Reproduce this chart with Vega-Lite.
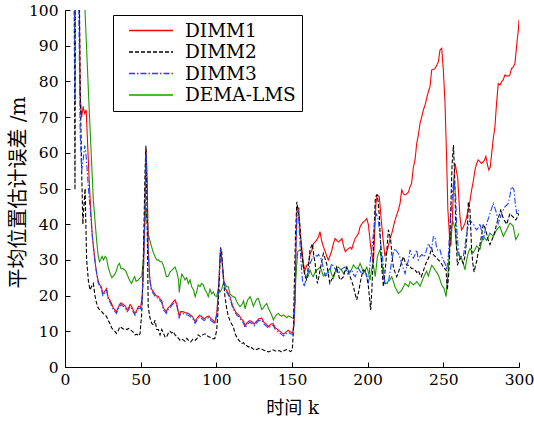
{
"$schema":"https://vega.github.io/schema/vega-lite/v6.json",
"width":454,"height":357,
"autosize":{"type":"none"},
"padding":{"left":65,"top":10,"right":15,"bottom":56},
"background":"white",
"config":{"view":{"stroke":null},"font":"DejaVu Serif"},
"data":{"values":[
{"s":"DEMA-LMS","k":1,"v":250},{"s":"DEMA-LMS","k":8,"v":200},{"s":"DEMA-LMS","k":12,"v":130},{"s":"DEMA-LMS","k":13.2,"v":100},{"s":"DEMA-LMS","k":16,"v":72},{"s":"DEMA-LMS","k":18.7,"v":47},{"s":"DEMA-LMS","k":20,"v":40},{"s":"DEMA-LMS","k":21,"v":35},{"s":"DEMA-LMS","k":22,"v":31},{"s":"DEMA-LMS","k":22.8,"v":29.5},{"s":"DEMA-LMS","k":23.5,"v":30},{"s":"DEMA-LMS","k":24.5,"v":31},{"s":"DEMA-LMS","k":25.5,"v":30},{"s":"DEMA-LMS","k":26.5,"v":31},{"s":"DEMA-LMS","k":27.5,"v":30.4},{"s":"DEMA-LMS","k":28.5,"v":28},{"s":"DEMA-LMS","k":30,"v":26},{"s":"DEMA-LMS","k":31,"v":25},{"s":"DEMA-LMS","k":32,"v":25.5},{"s":"DEMA-LMS","k":33,"v":26},{"s":"DEMA-LMS","k":34,"v":27},{"s":"DEMA-LMS","k":35,"v":28.5},{"s":"DEMA-LMS","k":36,"v":29},{"s":"DEMA-LMS","k":37,"v":27.6},{"s":"DEMA-LMS","k":38.5,"v":27.5},{"s":"DEMA-LMS","k":40,"v":27},{"s":"DEMA-LMS","k":41,"v":26},{"s":"DEMA-LMS","k":42,"v":25},{"s":"DEMA-LMS","k":43,"v":24},{"s":"DEMA-LMS","k":44,"v":23.4},{"s":"DEMA-LMS","k":45,"v":24.5},{"s":"DEMA-LMS","k":46,"v":25.3},{"s":"DEMA-LMS","k":47,"v":24},{"s":"DEMA-LMS","k":48.5,"v":24.4},{"s":"DEMA-LMS","k":49.5,"v":25},{"s":"DEMA-LMS","k":50.7,"v":25.3},{"s":"DEMA-LMS","k":51.8,"v":30},{"s":"DEMA-LMS","k":52.5,"v":38},{"s":"DEMA-LMS","k":53.3,"v":45},{"s":"DEMA-LMS","k":54.4,"v":40},{"s":"DEMA-LMS","k":55.2,"v":37},{"s":"DEMA-LMS","k":56,"v":35.6},{"s":"DEMA-LMS","k":57,"v":34},{"s":"DEMA-LMS","k":58.4,"v":32},{"s":"DEMA-LMS","k":59.5,"v":30.9},{"s":"DEMA-LMS","k":60.6,"v":30},{"s":"DEMA-LMS","k":61.7,"v":30},{"s":"DEMA-LMS","k":62.8,"v":29.5},{"s":"DEMA-LMS","k":63.9,"v":29.5},{"s":"DEMA-LMS","k":65,"v":28.5},{"s":"DEMA-LMS","k":66,"v":27},{"s":"DEMA-LMS","k":67,"v":25.3},{"s":"DEMA-LMS","k":68.3,"v":25.5},{"s":"DEMA-LMS","k":69.5,"v":26.7},{"s":"DEMA-LMS","k":70.5,"v":27},{"s":"DEMA-LMS","k":71.5,"v":27.5},{"s":"DEMA-LMS","k":72.7,"v":28},{"s":"DEMA-LMS","k":74,"v":26.5},{"s":"DEMA-LMS","k":75,"v":24.4},{"s":"DEMA-LMS","k":75.5,"v":20.9},{"s":"DEMA-LMS","k":76.5,"v":24.5},{"s":"DEMA-LMS","k":77.2,"v":26},{"s":"DEMA-LMS","k":78.3,"v":25.3},{"s":"DEMA-LMS","k":79.3,"v":24.4},{"s":"DEMA-LMS","k":80.4,"v":25},{"s":"DEMA-LMS","k":81.5,"v":23.4},{"s":"DEMA-LMS","k":82.6,"v":24.4},{"s":"DEMA-LMS","k":83.7,"v":22.5},{"s":"DEMA-LMS","k":85,"v":21.5},{"s":"DEMA-LMS","k":86,"v":19.7},{"s":"DEMA-LMS","k":87,"v":21},{"s":"DEMA-LMS","k":88,"v":23},{"s":"DEMA-LMS","k":89.2,"v":22.5},{"s":"DEMA-LMS","k":90.2,"v":23.4},{"s":"DEMA-LMS","k":91.4,"v":23},{"s":"DEMA-LMS","k":92.5,"v":21.6},{"s":"DEMA-LMS","k":93.6,"v":20.9},{"s":"DEMA-LMS","k":94.7,"v":19.7},{"s":"DEMA-LMS","k":95.8,"v":21.8},{"s":"DEMA-LMS","k":97,"v":20.5},{"s":"DEMA-LMS","k":98.1,"v":21},{"s":"DEMA-LMS","k":99,"v":20},{"s":"DEMA-LMS","k":100.2,"v":19.7},{"s":"DEMA-LMS","k":101.3,"v":22},{"s":"DEMA-LMS","k":102.4,"v":21},{"s":"DEMA-LMS","k":103.5,"v":21.8},{"s":"DEMA-LMS","k":104.6,"v":23.4},{"s":"DEMA-LMS","k":105.7,"v":23.4},{"s":"DEMA-LMS","k":106.8,"v":22.5},{"s":"DEMA-LMS","k":107.9,"v":22.5},{"s":"DEMA-LMS","k":109,"v":20.6},{"s":"DEMA-LMS","k":110,"v":20},{"s":"DEMA-LMS","k":111.2,"v":19.7},{"s":"DEMA-LMS","k":112.4,"v":19.5},{"s":"DEMA-LMS","k":113.5,"v":18.3},{"s":"DEMA-LMS","k":114.5,"v":17.5},{"s":"DEMA-LMS","k":115.7,"v":16.9},{"s":"DEMA-LMS","k":117,"v":17.5},{"s":"DEMA-LMS","k":118,"v":18.5},{"s":"DEMA-LMS","k":119,"v":16.3},{"s":"DEMA-LMS","k":120,"v":18},{"s":"DEMA-LMS","k":121,"v":19},{"s":"DEMA-LMS","k":122.3,"v":19.7},{"s":"DEMA-LMS","k":123.4,"v":18.5},{"s":"DEMA-LMS","k":124.5,"v":17},{"s":"DEMA-LMS","k":125.5,"v":18},{"s":"DEMA-LMS","k":126.6,"v":19},{"s":"DEMA-LMS","k":127.8,"v":19.2},{"s":"DEMA-LMS","k":129,"v":17.5},{"s":"DEMA-LMS","k":130,"v":16.1},{"s":"DEMA-LMS","k":131,"v":16.5},{"s":"DEMA-LMS","k":132,"v":17.2},{"s":"DEMA-LMS","k":133.3,"v":17.8},{"s":"DEMA-LMS","k":134.4,"v":16.5},{"s":"DEMA-LMS","k":135.5,"v":15.5},{"s":"DEMA-LMS","k":136.6,"v":14.5},{"s":"DEMA-LMS","k":137.7,"v":13.2},{"s":"DEMA-LMS","k":138.8,"v":14},{"s":"DEMA-LMS","k":140,"v":14.8},{"s":"DEMA-LMS","k":141,"v":15},{"s":"DEMA-LMS","k":142,"v":14.5},{"s":"DEMA-LMS","k":143.2,"v":14.2},{"s":"DEMA-LMS","k":144.3,"v":14.6},{"s":"DEMA-LMS","k":145.5,"v":14.2},{"s":"DEMA-LMS","k":146.5,"v":13.8},{"s":"DEMA-LMS","k":147.6,"v":14.3},{"s":"DEMA-LMS","k":148.7,"v":14.1},{"s":"DEMA-LMS","k":150,"v":13.8},{"s":"DEMA-LMS","k":151,"v":13.6},{"s":"DEMA-LMS","k":151.8,"v":18},{"s":"DEMA-LMS","k":152.5,"v":24.4},{"s":"DEMA-LMS","k":153.2,"v":29},{"s":"DEMA-LMS","k":153.8,"v":32.3},{"s":"DEMA-LMS","k":155,"v":32.8},{"s":"DEMA-LMS","k":156.4,"v":32.3},{"s":"DEMA-LMS","k":157.5,"v":28},{"s":"DEMA-LMS","k":158.6,"v":26},{"s":"DEMA-LMS","k":159.7,"v":24.9},{"s":"DEMA-LMS","k":160.8,"v":25.5},{"s":"DEMA-LMS","k":161.9,"v":27.2},{"s":"DEMA-LMS","k":163,"v":26},{"s":"DEMA-LMS","k":164,"v":25.3},{"s":"DEMA-LMS","k":165.3,"v":26.5},{"s":"DEMA-LMS","k":166.4,"v":27.2},{"s":"DEMA-LMS","k":167.5,"v":27.5},{"s":"DEMA-LMS","k":168.5,"v":28},{"s":"DEMA-LMS","k":169.6,"v":27},{"s":"DEMA-LMS","k":170.7,"v":25.5},{"s":"DEMA-LMS","k":171.8,"v":26},{"s":"DEMA-LMS","k":173,"v":26.2},{"s":"DEMA-LMS","k":174,"v":27},{"s":"DEMA-LMS","k":175,"v":27.5},{"s":"DEMA-LMS","k":176.2,"v":26},{"s":"DEMA-LMS","k":177.3,"v":24.9},{"s":"DEMA-LMS","k":178.4,"v":26.5},{"s":"DEMA-LMS","k":179.5,"v":27.6},{"s":"DEMA-LMS","k":180.6,"v":28},{"s":"DEMA-LMS","k":181.7,"v":27.5},{"s":"DEMA-LMS","k":183,"v":27},{"s":"DEMA-LMS","k":184,"v":26.2},{"s":"DEMA-LMS","k":185.1,"v":26.8},{"s":"DEMA-LMS","k":186.2,"v":27.6},{"s":"DEMA-LMS","k":187.3,"v":27},{"s":"DEMA-LMS","k":188.4,"v":26.5},{"s":"DEMA-LMS","k":189.5,"v":27.5},{"s":"DEMA-LMS","k":190.6,"v":28.6},{"s":"DEMA-LMS","k":191.7,"v":28},{"s":"DEMA-LMS","k":192.8,"v":27.5},{"s":"DEMA-LMS","k":194,"v":28},{"s":"DEMA-LMS","k":195,"v":29},{"s":"DEMA-LMS","k":196,"v":28},{"s":"DEMA-LMS","k":197.2,"v":26.2},{"s":"DEMA-LMS","k":198.3,"v":27},{"s":"DEMA-LMS","k":199.4,"v":28},{"s":"DEMA-LMS","k":200.5,"v":26.5},{"s":"DEMA-LMS","k":201.6,"v":24.4},{"s":"DEMA-LMS","k":202.5,"v":27},{"s":"DEMA-LMS","k":203.4,"v":29},{"s":"DEMA-LMS","k":204.2,"v":27.5},{"s":"DEMA-LMS","k":205,"v":25.3},{"s":"DEMA-LMS","k":205.7,"v":28},{"s":"DEMA-LMS","k":206.4,"v":30.9},{"s":"DEMA-LMS","k":207.3,"v":32},{"s":"DEMA-LMS","k":208.2,"v":32.8},{"s":"DEMA-LMS","k":209.1,"v":30},{"s":"DEMA-LMS","k":210,"v":27.2},{"s":"DEMA-LMS","k":210.7,"v":25},{"s":"DEMA-LMS","k":211.4,"v":23.4},{"s":"DEMA-LMS","k":212.5,"v":23.5},{"s":"DEMA-LMS","k":213.7,"v":24},{"s":"DEMA-LMS","k":214.8,"v":24.5},{"s":"DEMA-LMS","k":215.9,"v":25.3},{"s":"DEMA-LMS","k":217,"v":24},{"s":"DEMA-LMS","k":218,"v":22.5},{"s":"DEMA-LMS","k":219.2,"v":21.5},{"s":"DEMA-LMS","k":220.3,"v":20.6},{"s":"DEMA-LMS","k":221.4,"v":21},{"s":"DEMA-LMS","k":222.5,"v":21.5},{"s":"DEMA-LMS","k":223.6,"v":22.5},{"s":"DEMA-LMS","k":224.7,"v":23.4},{"s":"DEMA-LMS","k":225.8,"v":23},{"s":"DEMA-LMS","k":227,"v":22.5},{"s":"DEMA-LMS","k":228,"v":23.9},{"s":"DEMA-LMS","k":229,"v":23.5},{"s":"DEMA-LMS","k":230.2,"v":23},{"s":"DEMA-LMS","k":231.3,"v":23.4},{"s":"DEMA-LMS","k":232.4,"v":23.9},{"s":"DEMA-LMS","k":233.5,"v":23.4},{"s":"DEMA-LMS","k":234.6,"v":22.6},{"s":"DEMA-LMS","k":235.7,"v":23.8},{"s":"DEMA-LMS","k":236.8,"v":25},{"s":"DEMA-LMS","k":237.9,"v":26},{"s":"DEMA-LMS","k":239,"v":26.8},{"s":"DEMA-LMS","k":240.1,"v":25.5},{"s":"DEMA-LMS","k":241.2,"v":27},{"s":"DEMA-LMS","k":242.3,"v":28.5},{"s":"DEMA-LMS","k":243.4,"v":28},{"s":"DEMA-LMS","k":244.5,"v":27.2},{"s":"DEMA-LMS","k":245.6,"v":26.5},{"s":"DEMA-LMS","k":246.7,"v":25.8},{"s":"DEMA-LMS","k":247.8,"v":24.5},{"s":"DEMA-LMS","k":248.9,"v":23},{"s":"DEMA-LMS","k":249.6,"v":22.5},{"s":"DEMA-LMS","k":250.4,"v":22.1},{"s":"DEMA-LMS","k":251.1,"v":21},{"s":"DEMA-LMS","k":251.8,"v":19.7},{"s":"DEMA-LMS","k":252.5,"v":23},{"s":"DEMA-LMS","k":253.3,"v":27.6},{"s":"DEMA-LMS","k":254.4,"v":35.1},{"s":"DEMA-LMS","k":255.3,"v":38.5},{"s":"DEMA-LMS","k":256.2,"v":40.8},{"s":"DEMA-LMS","k":257,"v":40},{"s":"DEMA-LMS","k":257.7,"v":38.9},{"s":"DEMA-LMS","k":258.8,"v":33.2},{"s":"DEMA-LMS","k":260,"v":31.4},{"s":"DEMA-LMS","k":261,"v":31},{"s":"DEMA-LMS","k":262,"v":30.5},{"s":"DEMA-LMS","k":263.2,"v":29},{"s":"DEMA-LMS","k":264.3,"v":27.2},{"s":"DEMA-LMS","k":265.4,"v":30},{"s":"DEMA-LMS","k":266.5,"v":32},{"s":"DEMA-LMS","k":267.6,"v":33.2},{"s":"DEMA-LMS","k":268.7,"v":32.5},{"s":"DEMA-LMS","k":269.8,"v":32},{"s":"DEMA-LMS","k":271,"v":33},{"s":"DEMA-LMS","k":272,"v":33.9},{"s":"DEMA-LMS","k":273,"v":33.5},{"s":"DEMA-LMS","k":274.2,"v":33},{"s":"DEMA-LMS","k":275.3,"v":35},{"s":"DEMA-LMS","k":276.4,"v":36.6},{"s":"DEMA-LMS","k":277.5,"v":36},{"s":"DEMA-LMS","k":278.6,"v":35.5},{"s":"DEMA-LMS","k":279.7,"v":36.5},{"s":"DEMA-LMS","k":280.8,"v":37.5},{"s":"DEMA-LMS","k":281.9,"v":37},{"s":"DEMA-LMS","k":283,"v":36.6},{"s":"DEMA-LMS","k":284.1,"v":37.5},{"s":"DEMA-LMS","k":285.2,"v":38.4},{"s":"DEMA-LMS","k":286.3,"v":39},{"s":"DEMA-LMS","k":287.4,"v":39.4},{"s":"DEMA-LMS","k":288.5,"v":38},{"s":"DEMA-LMS","k":289.6,"v":36.6},{"s":"DEMA-LMS","k":290.7,"v":37.5},{"s":"DEMA-LMS","k":291.8,"v":38.4},{"s":"DEMA-LMS","k":293,"v":39.5},{"s":"DEMA-LMS","k":294,"v":40.3},{"s":"DEMA-LMS","k":295,"v":40},{"s":"DEMA-LMS","k":296.2,"v":39.4},{"s":"DEMA-LMS","k":297,"v":37.5},{"s":"DEMA-LMS","k":297.9,"v":35.7},{"s":"DEMA-LMS","k":299,"v":36.5},{"s":"DEMA-LMS","k":300,"v":37.5},
{"s":"DIMM1","k":1,"v":160},{"s":"DIMM1","k":5,"v":150},{"s":"DIMM1","k":8,"v":130},{"s":"DIMM1","k":9.5,"v":100},{"s":"DIMM1","k":10,"v":76},{"s":"DIMM1","k":11,"v":70},{"s":"DIMM1","k":12,"v":73},{"s":"DIMM1","k":13,"v":71},{"s":"DIMM1","k":14,"v":72},{"s":"DIMM1","k":15,"v":62},{"s":"DIMM1","k":16,"v":52},{"s":"DIMM1","k":17,"v":44},{"s":"DIMM1","k":18,"v":37},{"s":"DIMM1","k":19,"v":33},{"s":"DIMM1","k":20,"v":29},{"s":"DIMM1","k":21,"v":26},{"s":"DIMM1","k":22,"v":24},{"s":"DIMM1","k":23,"v":23},{"s":"DIMM1","k":24,"v":22.5},{"s":"DIMM1","k":25,"v":20.5},{"s":"DIMM1","k":26,"v":21},{"s":"DIMM1","k":27.5,"v":22},{"s":"DIMM1","k":28.5,"v":19.5},{"s":"DIMM1","k":30,"v":18.5},{"s":"DIMM1","k":31,"v":17.5},{"s":"DIMM1","k":32,"v":16.5},{"s":"DIMM1","k":33,"v":16},{"s":"DIMM1","k":34,"v":15.5},{"s":"DIMM1","k":35,"v":16.5},{"s":"DIMM1","k":36,"v":17.5},{"s":"DIMM1","k":37,"v":18},{"s":"DIMM1","k":38.5,"v":17.5},{"s":"DIMM1","k":40,"v":17},{"s":"DIMM1","k":41,"v":16},{"s":"DIMM1","k":42,"v":16.5},{"s":"DIMM1","k":43,"v":17.5},{"s":"DIMM1","k":44,"v":17},{"s":"DIMM1","k":45,"v":16},{"s":"DIMM1","k":46.3,"v":15},{"s":"DIMM1","k":47.5,"v":16},{"s":"DIMM1","k":48.5,"v":17},{"s":"DIMM1","k":50,"v":16.8},{"s":"DIMM1","k":51,"v":19.5},{"s":"DIMM1","k":52,"v":30},{"s":"DIMM1","k":53,"v":47},{"s":"DIMM1","k":53.6,"v":61},{"s":"DIMM1","k":54.3,"v":52},{"s":"DIMM1","k":55,"v":33},{"s":"DIMM1","k":56,"v":25},{"s":"DIMM1","k":57,"v":22},{"s":"DIMM1","k":58.5,"v":21},{"s":"DIMM1","k":60,"v":20},{"s":"DIMM1","k":61.5,"v":19.8},{"s":"DIMM1","k":63,"v":19},{"s":"DIMM1","k":64,"v":18.5},{"s":"DIMM1","k":65,"v":16.5},{"s":"DIMM1","k":66,"v":16},{"s":"DIMM1","k":67,"v":15.5},{"s":"DIMM1","k":68,"v":16.5},{"s":"DIMM1","k":69.4,"v":17},{"s":"DIMM1","k":71,"v":18},{"s":"DIMM1","k":72.7,"v":18.8},{"s":"DIMM1","k":74,"v":17.5},{"s":"DIMM1","k":75.4,"v":14.3},{"s":"DIMM1","k":76.5,"v":15.5},{"s":"DIMM1","k":78,"v":15.5},{"s":"DIMM1","k":79.5,"v":15.2},{"s":"DIMM1","k":81.5,"v":15},{"s":"DIMM1","k":83,"v":14.5},{"s":"DIMM1","k":84.5,"v":14},{"s":"DIMM1","k":86,"v":12.7},{"s":"DIMM1","k":87.5,"v":13.8},{"s":"DIMM1","k":89,"v":14.5},{"s":"DIMM1","k":90.5,"v":14},{"s":"DIMM1","k":92,"v":13.5},{"s":"DIMM1","k":93.5,"v":14},{"s":"DIMM1","k":95,"v":14.3},{"s":"DIMM1","k":96.5,"v":13.5},{"s":"DIMM1","k":98,"v":13},{"s":"DIMM1","k":99,"v":12.5},{"s":"DIMM1","k":100.3,"v":15},{"s":"DIMM1","k":101.3,"v":21},{"s":"DIMM1","k":102.8,"v":33.5},{"s":"DIMM1","k":104,"v":29},{"s":"DIMM1","k":105,"v":24},{"s":"DIMM1","k":106,"v":22},{"s":"DIMM1","k":107.5,"v":21},{"s":"DIMM1","k":109,"v":19.7},{"s":"DIMM1","k":110.5,"v":17.5},{"s":"DIMM1","k":112,"v":16},{"s":"DIMM1","k":113.5,"v":15},{"s":"DIMM1","k":115,"v":14.5},{"s":"DIMM1","k":116.5,"v":13.5},{"s":"DIMM1","k":118,"v":12.8},{"s":"DIMM1","k":119,"v":11.5},{"s":"DIMM1","k":120.5,"v":12.5},{"s":"DIMM1","k":122,"v":13},{"s":"DIMM1","k":123.5,"v":12.7},{"s":"DIMM1","k":125,"v":12},{"s":"DIMM1","k":126.5,"v":12.8},{"s":"DIMM1","k":128,"v":13.5},{"s":"DIMM1","k":130,"v":13.7},{"s":"DIMM1","k":131.5,"v":12.5},{"s":"DIMM1","k":133,"v":12},{"s":"DIMM1","k":134.5,"v":11.3},{"s":"DIMM1","k":136,"v":12},{"s":"DIMM1","k":137.5,"v":12.2},{"s":"DIMM1","k":139,"v":11},{"s":"DIMM1","k":140.5,"v":10.5},{"s":"DIMM1","k":142,"v":10},{"s":"DIMM1","k":143.5,"v":9.5},{"s":"DIMM1","k":144.5,"v":9.2},{"s":"DIMM1","k":146,"v":9.8},{"s":"DIMM1","k":147.5,"v":10.3},{"s":"DIMM1","k":149,"v":9.8},{"s":"DIMM1","k":150.5,"v":9.6},{"s":"DIMM1","k":151.3,"v":12},{"s":"DIMM1","k":152,"v":19},{"s":"DIMM1","k":152.7,"v":35},{"s":"DIMM1","k":153.3,"v":44},{"s":"DIMM1","k":154.5,"v":44.5},{"s":"DIMM1","k":155.3,"v":38},{"s":"DIMM1","k":156.4,"v":33.7},{"s":"DIMM1","k":157.5,"v":29},{"s":"DIMM1","k":158.6,"v":27},{"s":"DIMM1","k":159.7,"v":28.5},{"s":"DIMM1","k":161,"v":29},{"s":"DIMM1","k":162,"v":31.8},{"s":"DIMM1","k":163,"v":32.5},{"s":"DIMM1","k":164.2,"v":34.6},{"s":"DIMM1","k":165.3,"v":35},{"s":"DIMM1","k":166.4,"v":35.6},{"s":"DIMM1","k":167.5,"v":36.5},{"s":"DIMM1","k":168.5,"v":37.9},{"s":"DIMM1","k":169.5,"v":35.5},{"s":"DIMM1","k":170.5,"v":34},{"s":"DIMM1","k":171.8,"v":32.5},{"s":"DIMM1","k":173,"v":31},{"s":"DIMM1","k":174,"v":30},{"s":"DIMM1","k":175,"v":31},{"s":"DIMM1","k":176.2,"v":32.5},{"s":"DIMM1","k":177.3,"v":34.5},{"s":"DIMM1","k":178.5,"v":36},{"s":"DIMM1","k":179.5,"v":35.5},{"s":"DIMM1","k":180.7,"v":35},{"s":"DIMM1","k":182,"v":35.5},{"s":"DIMM1","k":183,"v":36},{"s":"DIMM1","k":184,"v":34},{"s":"DIMM1","k":185.2,"v":32.3},{"s":"DIMM1","k":186.3,"v":32.8},{"s":"DIMM1","k":187.3,"v":33.2},{"s":"DIMM1","k":188.5,"v":33.5},{"s":"DIMM1","k":189.5,"v":33},{"s":"DIMM1","k":190.5,"v":34.5},{"s":"DIMM1","k":191.7,"v":36},{"s":"DIMM1","k":193,"v":36.8},{"s":"DIMM1","k":194,"v":37.5},{"s":"DIMM1","k":195,"v":39.3},{"s":"DIMM1","k":196,"v":40},{"s":"DIMM1","k":197.2,"v":40.7},{"s":"DIMM1","k":198.3,"v":41},{"s":"DIMM1","k":199.4,"v":41.6},{"s":"DIMM1","k":200.5,"v":39.8},{"s":"DIMM1","k":201.2,"v":37},{"s":"DIMM1","k":202,"v":33.7},{"s":"DIMM1","k":203,"v":31},{"s":"DIMM1","k":203.8,"v":29},{"s":"DIMM1","k":204.7,"v":38},{"s":"DIMM1","k":205.5,"v":46},{"s":"DIMM1","k":206.3,"v":48.2},{"s":"DIMM1","k":207.7,"v":47.7},{"s":"DIMM1","k":208.8,"v":42},{"s":"DIMM1","k":210,"v":36.5},{"s":"DIMM1","k":211.4,"v":31},{"s":"DIMM1","k":212.2,"v":32},{"s":"DIMM1","k":213,"v":32.8},{"s":"DIMM1","k":214,"v":34.5},{"s":"DIMM1","k":214.8,"v":36},{"s":"DIMM1","k":216,"v":37.5},{"s":"DIMM1","k":217,"v":39.3},{"s":"DIMM1","k":218,"v":41},{"s":"DIMM1","k":219.2,"v":42.6},{"s":"DIMM1","k":220.3,"v":44},{"s":"DIMM1","k":221.4,"v":45.8},{"s":"DIMM1","k":222.5,"v":49.6},{"s":"DIMM1","k":223.6,"v":48.5},{"s":"DIMM1","k":224.7,"v":48.2},{"s":"DIMM1","k":226,"v":48.6},{"s":"DIMM1","k":227,"v":49},{"s":"DIMM1","k":228,"v":50.5},{"s":"DIMM1","k":229,"v":51.4},{"s":"DIMM1","k":230.2,"v":56},{"s":"DIMM1","k":231.3,"v":58},{"s":"DIMM1","k":232.4,"v":62.6},{"s":"DIMM1","k":233.5,"v":65},{"s":"DIMM1","k":234.6,"v":68.3},{"s":"DIMM1","k":235.7,"v":70},{"s":"DIMM1","k":236.8,"v":72},{"s":"DIMM1","k":238,"v":73.5},{"s":"DIMM1","k":239,"v":75.3},{"s":"DIMM1","k":240,"v":77},{"s":"DIMM1","k":241.2,"v":78.5},{"s":"DIMM1","k":242.3,"v":83.2},{"s":"DIMM1","k":243.4,"v":83.4},{"s":"DIMM1","k":244.5,"v":83.6},{"s":"DIMM1","k":245.6,"v":84.5},{"s":"DIMM1","k":246.7,"v":85.5},{"s":"DIMM1","k":247.8,"v":88.8},{"s":"DIMM1","k":248.9,"v":89.3},{"s":"DIMM1","k":250,"v":83.2},{"s":"DIMM1","k":251.1,"v":74},{"s":"DIMM1","k":252.2,"v":58},{"s":"DIMM1","k":253,"v":44},{"s":"DIMM1","k":253.6,"v":40},{"s":"DIMM1","k":254.3,"v":35},{"s":"DIMM1","k":255,"v":34},{"s":"DIMM1","k":256,"v":42},{"s":"DIMM1","k":257,"v":53},{"s":"DIMM1","k":257.8,"v":57},{"s":"DIMM1","k":258.6,"v":55},{"s":"DIMM1","k":259.5,"v":53},{"s":"DIMM1","k":260.3,"v":47},{"s":"DIMM1","k":261,"v":42},{"s":"DIMM1","k":262,"v":38.4},{"s":"DIMM1","k":263,"v":39},{"s":"DIMM1","k":264.3,"v":40.3},{"s":"DIMM1","k":265.4,"v":42},{"s":"DIMM1","k":266.5,"v":44},{"s":"DIMM1","k":267.6,"v":46.5},{"s":"DIMM1","k":268.7,"v":49.6},{"s":"DIMM1","k":269.8,"v":52},{"s":"DIMM1","k":270.9,"v":55.2},{"s":"DIMM1","k":272,"v":57},{"s":"DIMM1","k":273,"v":58},{"s":"DIMM1","k":274.2,"v":57.5},{"s":"DIMM1","k":275.3,"v":57},{"s":"DIMM1","k":276.4,"v":57.5},{"s":"DIMM1","k":277.2,"v":58},{"s":"DIMM1","k":278.1,"v":59},{"s":"DIMM1","k":279,"v":57},{"s":"DIMM1","k":280,"v":55.2},{"s":"DIMM1","k":281,"v":56},{"s":"DIMM1","k":282,"v":60},{"s":"DIMM1","k":283,"v":64},{"s":"DIMM1","k":284.1,"v":67.3},{"s":"DIMM1","k":285.2,"v":74},{"s":"DIMM1","k":286.3,"v":79.4},{"s":"DIMM1","k":287.4,"v":79},{"s":"DIMM1","k":288.5,"v":79.9},{"s":"DIMM1","k":289.6,"v":80.5},{"s":"DIMM1","k":290.7,"v":81.8},{"s":"DIMM1","k":292,"v":81.5},{"s":"DIMM1","k":293,"v":81.5},{"s":"DIMM1","k":294,"v":81.8},{"s":"DIMM1","k":295,"v":83.6},{"s":"DIMM1","k":296.2,"v":84},{"s":"DIMM1","k":297.3,"v":85},{"s":"DIMM1","k":298,"v":88},{"s":"DIMM1","k":298.8,"v":91.6},{"s":"DIMM1","k":299.5,"v":94},{"s":"DIMM1","k":300,"v":97.2},
{"s":"DIMM2","k":1,"v":160},{"s":"DIMM2","k":5,"v":150},{"s":"DIMM2","k":6,"v":110},{"s":"DIMM2","k":6.6,"v":49.6},{"s":"DIMM2","k":7,"v":110},{"s":"DIMM2","k":8,"v":150},{"s":"DIMM2","k":9,"v":130},{"s":"DIMM2","k":10,"v":80},{"s":"DIMM2","k":11,"v":55},{"s":"DIMM2","k":11.8,"v":40},{"s":"DIMM2","k":12.5,"v":45},{"s":"DIMM2","k":13.3,"v":50},{"s":"DIMM2","k":14.3,"v":30},{"s":"DIMM2","k":15.5,"v":24},{"s":"DIMM2","k":16.5,"v":21.6},{"s":"DIMM2","k":17.5,"v":22.5},{"s":"DIMM2","k":18.7,"v":23.4},{"s":"DIMM2","k":19.8,"v":20},{"s":"DIMM2","k":20.9,"v":17.8},{"s":"DIMM2","k":22,"v":16.5},{"s":"DIMM2","k":23.1,"v":16},{"s":"DIMM2","k":24.2,"v":15.5},{"s":"DIMM2","k":25.3,"v":15},{"s":"DIMM2","k":26.4,"v":14.7},{"s":"DIMM2","k":27.5,"v":14.1},{"s":"DIMM2","k":28.6,"v":13},{"s":"DIMM2","k":29.7,"v":12.2},{"s":"DIMM2","k":30.8,"v":11},{"s":"DIMM2","k":31.9,"v":10.4},{"s":"DIMM2","k":33,"v":10},{"s":"DIMM2","k":34.1,"v":9.4},{"s":"DIMM2","k":35.2,"v":10.2},{"s":"DIMM2","k":36.3,"v":11.3},{"s":"DIMM2","k":37.4,"v":11},{"s":"DIMM2","k":38.5,"v":10.6},{"s":"DIMM2","k":39.6,"v":10.8},{"s":"DIMM2","k":41,"v":10.5},{"s":"DIMM2","k":42,"v":10.8},{"s":"DIMM2","k":43,"v":10.4},{"s":"DIMM2","k":44,"v":10.2},{"s":"DIMM2","k":45,"v":9.8},{"s":"DIMM2","k":46.3,"v":9},{"s":"DIMM2","k":47.5,"v":9.2},{"s":"DIMM2","k":48.5,"v":8.7},{"s":"DIMM2","k":49.6,"v":9.4},{"s":"DIMM2","k":50.7,"v":15},{"s":"DIMM2","k":51.5,"v":25},{"s":"DIMM2","k":52.2,"v":40},{"s":"DIMM2","k":52.9,"v":55},{"s":"DIMM2","k":53.5,"v":62},{"s":"DIMM2","k":54,"v":50},{"s":"DIMM2","k":54.5,"v":33},{"s":"DIMM2","k":55,"v":17},{"s":"DIMM2","k":56,"v":14},{"s":"DIMM2","k":57.3,"v":12.2},{"s":"DIMM2","k":58.5,"v":11.8},{"s":"DIMM2","k":59.5,"v":13.1},{"s":"DIMM2","k":60.6,"v":10.5},{"s":"DIMM2","k":61.7,"v":10.5},{"s":"DIMM2","k":62.8,"v":9},{"s":"DIMM2","k":63.9,"v":10.5},{"s":"DIMM2","k":65,"v":9.5},{"s":"DIMM2","k":66,"v":8.5},{"s":"DIMM2","k":67,"v":8.3},{"s":"DIMM2","k":68.3,"v":9.5},{"s":"DIMM2","k":69.4,"v":10},{"s":"DIMM2","k":70.5,"v":9.5},{"s":"DIMM2","k":71.6,"v":9.9},{"s":"DIMM2","k":72.7,"v":9},{"s":"DIMM2","k":74,"v":8.5},{"s":"DIMM2","k":75,"v":8},{"s":"DIMM2","k":76,"v":7.5},{"s":"DIMM2","k":77,"v":7.8},{"s":"DIMM2","k":78,"v":7.6},{"s":"DIMM2","k":79.3,"v":7.2},{"s":"DIMM2","k":80.5,"v":8},{"s":"DIMM2","k":81.5,"v":7.5},{"s":"DIMM2","k":83,"v":7},{"s":"DIMM2","k":84.5,"v":7.8},{"s":"DIMM2","k":86,"v":7.5},{"s":"DIMM2","k":87.3,"v":8},{"s":"DIMM2","k":88,"v":9},{"s":"DIMM2","k":89.5,"v":8.5},{"s":"DIMM2","k":91,"v":9},{"s":"DIMM2","k":92.5,"v":9.3},{"s":"DIMM2","k":93.6,"v":8.8},{"s":"DIMM2","k":95,"v":8.5},{"s":"DIMM2","k":96.5,"v":8.2},{"s":"DIMM2","k":98,"v":7.9},{"s":"DIMM2","k":99,"v":8},{"s":"DIMM2","k":100.2,"v":10.2},{"s":"DIMM2","k":101,"v":15},{"s":"DIMM2","k":102,"v":25},{"s":"DIMM2","k":102.8,"v":33.2},{"s":"DIMM2","k":103.5,"v":32.8},{"s":"DIMM2","k":104.2,"v":27},{"s":"DIMM2","k":105.7,"v":19.7},{"s":"DIMM2","k":107,"v":16},{"s":"DIMM2","k":108,"v":14.1},{"s":"DIMM2","k":109.5,"v":12.5},{"s":"DIMM2","k":111.2,"v":11.3},{"s":"DIMM2","k":112.4,"v":9.3},{"s":"DIMM2","k":114,"v":8},{"s":"DIMM2","k":115.5,"v":7.2},{"s":"DIMM2","k":116.8,"v":6.6},{"s":"DIMM2","k":118,"v":6.8},{"s":"DIMM2","k":119,"v":6.1},{"s":"DIMM2","k":120,"v":6},{"s":"DIMM2","k":121.2,"v":5.6},{"s":"DIMM2","k":122.5,"v":5.8},{"s":"DIMM2","k":123.5,"v":5.3},{"s":"DIMM2","k":125.6,"v":4.7},{"s":"DIMM2","k":127,"v":5},{"s":"DIMM2","k":128,"v":5.2},{"s":"DIMM2","k":130,"v":5},{"s":"DIMM2","k":131.5,"v":4.7},{"s":"DIMM2","k":133,"v":4.5},{"s":"DIMM2","k":134.4,"v":4.2},{"s":"DIMM2","k":136,"v":4.5},{"s":"DIMM2","k":137.5,"v":4.8},{"s":"DIMM2","k":139,"v":4.5},{"s":"DIMM2","k":140.5,"v":4.4},{"s":"DIMM2","k":141.5,"v":4.6},{"s":"DIMM2","k":143.2,"v":4.2},{"s":"DIMM2","k":145,"v":4.6},{"s":"DIMM2","k":146.5,"v":4.9},{"s":"DIMM2","k":148,"v":4.6},{"s":"DIMM2","k":149,"v":4.3},{"s":"DIMM2","k":150.2,"v":4.7},{"s":"DIMM2","k":150.9,"v":10},{"s":"DIMM2","k":151.6,"v":24.4},{"s":"DIMM2","k":152.4,"v":38},{"s":"DIMM2","k":153.2,"v":46.3},{"s":"DIMM2","k":154,"v":44},{"s":"DIMM2","k":155.3,"v":39.3},{"s":"DIMM2","k":156.2,"v":33},{"s":"DIMM2","k":157.5,"v":28},{"s":"DIMM2","k":158.5,"v":25.5},{"s":"DIMM2","k":159.7,"v":24.4},{"s":"DIMM2","k":160.8,"v":28},{"s":"DIMM2","k":161.9,"v":32.8},{"s":"DIMM2","k":163.4,"v":34.5},{"s":"DIMM2","k":164.5,"v":31},{"s":"DIMM2","k":165.3,"v":29},{"s":"DIMM2","k":166,"v":26},{"s":"DIMM2","k":166.8,"v":23.4},{"s":"DIMM2","k":167.6,"v":25},{"s":"DIMM2","k":168.5,"v":27},{"s":"DIMM2","k":169.6,"v":29.5},{"s":"DIMM2","k":170.7,"v":31.8},{"s":"DIMM2","k":171.8,"v":30.5},{"s":"DIMM2","k":172.9,"v":29},{"s":"DIMM2","k":174,"v":26},{"s":"DIMM2","k":175,"v":23.4},{"s":"DIMM2","k":176.2,"v":24.5},{"s":"DIMM2","k":177.3,"v":25.3},{"s":"DIMM2","k":178.4,"v":26.5},{"s":"DIMM2","k":179.5,"v":28},{"s":"DIMM2","k":180.6,"v":26},{"s":"DIMM2","k":181.7,"v":24.4},{"s":"DIMM2","k":183,"v":24.8},{"s":"DIMM2","k":184,"v":25.3},{"s":"DIMM2","k":185,"v":27},{"s":"DIMM2","k":186.2,"v":28},{"s":"DIMM2","k":187.3,"v":26.5},{"s":"DIMM2","k":188.4,"v":25.3},{"s":"DIMM2","k":189.5,"v":24},{"s":"DIMM2","k":190.6,"v":22.5},{"s":"DIMM2","k":191.7,"v":20.5},{"s":"DIMM2","k":192.8,"v":18.8},{"s":"DIMM2","k":194,"v":21},{"s":"DIMM2","k":195,"v":23.4},{"s":"DIMM2","k":196,"v":25.5},{"s":"DIMM2","k":197.2,"v":27.2},{"s":"DIMM2","k":198.3,"v":27},{"s":"DIMM2","k":199.4,"v":25.5},{"s":"DIMM2","k":200.5,"v":22.5},{"s":"DIMM2","k":201.2,"v":19.5},{"s":"DIMM2","k":202,"v":16},{"s":"DIMM2","k":202.7,"v":21},{"s":"DIMM2","k":203.4,"v":28},{"s":"DIMM2","k":204.2,"v":38},{"s":"DIMM2","k":205,"v":46.8},{"s":"DIMM2","k":205.8,"v":48.2},{"s":"DIMM2","k":206.4,"v":48.2},{"s":"DIMM2","k":207.1,"v":45.5},{"s":"DIMM2","k":207.7,"v":42.3},{"s":"DIMM2","k":208.5,"v":35},{"s":"DIMM2","k":209.3,"v":28},{"s":"DIMM2","k":210.4,"v":22.5},{"s":"DIMM2","k":211.3,"v":26},{"s":"DIMM2","k":212.2,"v":30},{"s":"DIMM2","k":213,"v":34.5},{"s":"DIMM2","k":213.7,"v":38.4},{"s":"DIMM2","k":214.5,"v":37},{"s":"DIMM2","k":215.2,"v":35.6},{"s":"DIMM2","k":216,"v":31.5},{"s":"DIMM2","k":217,"v":28},{"s":"DIMM2","k":218.1,"v":26.5},{"s":"DIMM2","k":219.2,"v":25.3},{"s":"DIMM2","k":220.3,"v":26.5},{"s":"DIMM2","k":221.4,"v":28},{"s":"DIMM2","k":222.5,"v":29.5},{"s":"DIMM2","k":223.6,"v":30.9},{"s":"DIMM2","k":224.7,"v":29.5},{"s":"DIMM2","k":225.8,"v":28.5},{"s":"DIMM2","k":227,"v":28.5},{"s":"DIMM2","k":228,"v":28.1},{"s":"DIMM2","k":229,"v":27.6},{"s":"DIMM2","k":230.2,"v":27.5},{"s":"DIMM2","k":231.3,"v":27.2},{"s":"DIMM2","k":232.4,"v":26.5},{"s":"DIMM2","k":233.5,"v":27},{"s":"DIMM2","k":234.5,"v":26},{"s":"DIMM2","k":235.4,"v":25.3},{"s":"DIMM2","k":236.5,"v":26.5},{"s":"DIMM2","k":238,"v":28.5},{"s":"DIMM2","k":239,"v":29.5},{"s":"DIMM2","k":240.2,"v":30.5},{"s":"DIMM2","k":241.3,"v":31.8},{"s":"DIMM2","k":242.3,"v":33.2},{"s":"DIMM2","k":243.4,"v":31.5},{"s":"DIMM2","k":244.5,"v":31},{"s":"DIMM2","k":245.6,"v":30.5},{"s":"DIMM2","k":246.7,"v":30},{"s":"DIMM2","k":247.8,"v":29.6},{"s":"DIMM2","k":249,"v":28.8},{"s":"DIMM2","k":250,"v":28},{"s":"DIMM2","k":251,"v":27.5},{"s":"DIMM2","k":251.8,"v":27.2},{"s":"DIMM2","k":252.6,"v":21.5},{"s":"DIMM2","k":253.4,"v":25},{"s":"DIMM2","k":254,"v":29.6},{"s":"DIMM2","k":254.9,"v":43.9},{"s":"DIMM2","k":255.8,"v":57},{"s":"DIMM2","k":256.7,"v":62.2},{"s":"DIMM2","k":257.5,"v":53.3},{"s":"DIMM2","k":258.4,"v":36.4},{"s":"DIMM2","k":259.3,"v":28.5},{"s":"DIMM2","k":260.2,"v":29.5},{"s":"DIMM2","k":261,"v":30.5},{"s":"DIMM2","k":262,"v":30},{"s":"DIMM2","k":263.2,"v":29},{"s":"DIMM2","k":264.3,"v":31},{"s":"DIMM2","k":265.4,"v":35.5},{"s":"DIMM2","k":266,"v":40},{"s":"DIMM2","k":266.5,"v":46.3},{"s":"DIMM2","k":267.6,"v":43.9},{"s":"DIMM2","k":268.2,"v":38},{"s":"DIMM2","k":268.7,"v":32.8},{"s":"DIMM2","k":269.5,"v":29},{"s":"DIMM2","k":270.3,"v":26.6},{"s":"DIMM2","k":271,"v":28},{"s":"DIMM2","k":272,"v":29.6},{"s":"DIMM2","k":273,"v":32},{"s":"DIMM2","k":274.2,"v":34.3},{"s":"DIMM2","k":275.3,"v":37},{"s":"DIMM2","k":276.4,"v":40},{"s":"DIMM2","k":277.5,"v":39},{"s":"DIMM2","k":278.6,"v":37.4},{"s":"DIMM2","k":279.7,"v":35.5},{"s":"DIMM2","k":280.8,"v":34.3},{"s":"DIMM2","k":282,"v":35.5},{"s":"DIMM2","k":283,"v":36.5},{"s":"DIMM2","k":284.1,"v":38},{"s":"DIMM2","k":285.2,"v":40},{"s":"DIMM2","k":286.5,"v":42},{"s":"DIMM2","k":287.9,"v":43.9},{"s":"DIMM2","k":289,"v":42.5},{"s":"DIMM2","k":289.6,"v":41.5},{"s":"DIMM2","k":290.7,"v":40.8},{"s":"DIMM2","k":291.8,"v":40},{"s":"DIMM2","k":293,"v":41.5},{"s":"DIMM2","k":294,"v":43},{"s":"DIMM2","k":295,"v":42.5},{"s":"DIMM2","k":296.2,"v":42},{"s":"DIMM2","k":297,"v":41.5},{"s":"DIMM2","k":297.9,"v":41.2},{"s":"DIMM2","k":299,"v":42},{"s":"DIMM2","k":300,"v":43},
{"s":"DIMM3","k":1,"v":160},{"s":"DIMM3","k":5,"v":150},{"s":"DIMM3","k":6,"v":120},{"s":"DIMM3","k":6.6,"v":74.5},{"s":"DIMM3","k":7,"v":110},{"s":"DIMM3","k":8,"v":130},{"s":"DIMM3","k":9,"v":105},{"s":"DIMM3","k":10,"v":66},{"s":"DIMM3","k":11,"v":55},{"s":"DIMM3","k":12,"v":58},{"s":"DIMM3","k":13,"v":62},{"s":"DIMM3","k":14,"v":59},{"s":"DIMM3","k":14.5,"v":56},{"s":"DIMM3","k":15.5,"v":50},{"s":"DIMM3","k":16.7,"v":44},{"s":"DIMM3","k":18,"v":37},{"s":"DIMM3","k":19,"v":32.5},{"s":"DIMM3","k":20,"v":29},{"s":"DIMM3","k":21,"v":26},{"s":"DIMM3","k":22,"v":23.5},{"s":"DIMM3","k":23,"v":22.5},{"s":"DIMM3","k":24,"v":22},{"s":"DIMM3","k":25,"v":20},{"s":"DIMM3","k":26,"v":20.5},{"s":"DIMM3","k":27.5,"v":21.5},{"s":"DIMM3","k":28.5,"v":19},{"s":"DIMM3","k":30,"v":18},{"s":"DIMM3","k":31,"v":17},{"s":"DIMM3","k":32,"v":16},{"s":"DIMM3","k":33,"v":15.5},{"s":"DIMM3","k":34,"v":15},{"s":"DIMM3","k":35,"v":16},{"s":"DIMM3","k":36,"v":17},{"s":"DIMM3","k":37,"v":17.5},{"s":"DIMM3","k":38.5,"v":17},{"s":"DIMM3","k":40,"v":16.5},{"s":"DIMM3","k":41,"v":15.5},{"s":"DIMM3","k":42,"v":16},{"s":"DIMM3","k":43,"v":17},{"s":"DIMM3","k":44,"v":16.5},{"s":"DIMM3","k":45,"v":15.5},{"s":"DIMM3","k":46.3,"v":14.5},{"s":"DIMM3","k":47.5,"v":15.5},{"s":"DIMM3","k":48.5,"v":16.5},{"s":"DIMM3","k":50,"v":16.3},{"s":"DIMM3","k":51,"v":19},{"s":"DIMM3","k":52,"v":29},{"s":"DIMM3","k":53,"v":46},{"s":"DIMM3","k":53.6,"v":60},{"s":"DIMM3","k":54.3,"v":51},{"s":"DIMM3","k":55,"v":32},{"s":"DIMM3","k":56,"v":24.5},{"s":"DIMM3","k":57,"v":21.5},{"s":"DIMM3","k":58.5,"v":20.5},{"s":"DIMM3","k":60,"v":19.5},{"s":"DIMM3","k":61.5,"v":19.3},{"s":"DIMM3","k":63,"v":18.5},{"s":"DIMM3","k":64,"v":18},{"s":"DIMM3","k":65,"v":16},{"s":"DIMM3","k":66,"v":15.5},{"s":"DIMM3","k":67,"v":15},{"s":"DIMM3","k":68,"v":16},{"s":"DIMM3","k":69.4,"v":16.5},{"s":"DIMM3","k":71,"v":17.5},{"s":"DIMM3","k":72.7,"v":18.3},{"s":"DIMM3","k":74,"v":17},{"s":"DIMM3","k":75.4,"v":13.8},{"s":"DIMM3","k":76.5,"v":15},{"s":"DIMM3","k":78,"v":15},{"s":"DIMM3","k":79.5,"v":14.7},{"s":"DIMM3","k":81.5,"v":14.5},{"s":"DIMM3","k":83,"v":14},{"s":"DIMM3","k":84.5,"v":13.5},{"s":"DIMM3","k":86,"v":12.2},{"s":"DIMM3","k":87.5,"v":13.3},{"s":"DIMM3","k":89,"v":14},{"s":"DIMM3","k":90.5,"v":13.5},{"s":"DIMM3","k":92,"v":13},{"s":"DIMM3","k":93.5,"v":13.5},{"s":"DIMM3","k":95,"v":13.8},{"s":"DIMM3","k":96.5,"v":13},{"s":"DIMM3","k":98,"v":12.5},{"s":"DIMM3","k":99,"v":12},{"s":"DIMM3","k":100.3,"v":14.5},{"s":"DIMM3","k":101.3,"v":20.5},{"s":"DIMM3","k":102.8,"v":33.2},{"s":"DIMM3","k":104,"v":28.5},{"s":"DIMM3","k":105,"v":23.5},{"s":"DIMM3","k":106,"v":21.5},{"s":"DIMM3","k":107.5,"v":20.5},{"s":"DIMM3","k":109,"v":19.2},{"s":"DIMM3","k":110.5,"v":17},{"s":"DIMM3","k":112,"v":15.5},{"s":"DIMM3","k":113.5,"v":14.5},{"s":"DIMM3","k":115,"v":14},{"s":"DIMM3","k":116.5,"v":13},{"s":"DIMM3","k":118,"v":12.3},{"s":"DIMM3","k":119,"v":11},{"s":"DIMM3","k":120.5,"v":12},{"s":"DIMM3","k":122,"v":12.5},{"s":"DIMM3","k":123.5,"v":12.2},{"s":"DIMM3","k":125,"v":11.5},{"s":"DIMM3","k":126.5,"v":12.3},{"s":"DIMM3","k":128,"v":13},{"s":"DIMM3","k":130,"v":13.2},{"s":"DIMM3","k":131.5,"v":12},{"s":"DIMM3","k":133,"v":11.5},{"s":"DIMM3","k":134.5,"v":10.8},{"s":"DIMM3","k":136,"v":11.5},{"s":"DIMM3","k":137.5,"v":11.7},{"s":"DIMM3","k":139,"v":10.5},{"s":"DIMM3","k":140.5,"v":10},{"s":"DIMM3","k":142,"v":9.5},{"s":"DIMM3","k":143.5,"v":9},{"s":"DIMM3","k":144.5,"v":8.7},{"s":"DIMM3","k":146,"v":9.3},{"s":"DIMM3","k":147.5,"v":9.8},{"s":"DIMM3","k":149,"v":9.3},{"s":"DIMM3","k":150.5,"v":9.1},{"s":"DIMM3","k":151.3,"v":11.5},{"s":"DIMM3","k":152,"v":18.5},{"s":"DIMM3","k":152.7,"v":34},{"s":"DIMM3","k":153.3,"v":43},{"s":"DIMM3","k":154.2,"v":44},{"s":"DIMM3","k":155,"v":37},{"s":"DIMM3","k":156,"v":29},{"s":"DIMM3","k":157,"v":24},{"s":"DIMM3","k":158,"v":22.5},{"s":"DIMM3","k":159.7,"v":25.3},{"s":"DIMM3","k":161,"v":27},{"s":"DIMM3","k":162,"v":29},{"s":"DIMM3","k":163,"v":30},{"s":"DIMM3","k":164,"v":31},{"s":"DIMM3","k":165.3,"v":31.4},{"s":"DIMM3","k":166.5,"v":31},{"s":"DIMM3","k":167.5,"v":31.5},{"s":"DIMM3","k":169,"v":30.5},{"s":"DIMM3","k":170,"v":29},{"s":"DIMM3","k":171,"v":27},{"s":"DIMM3","k":172,"v":25.5},{"s":"DIMM3","k":173.5,"v":26},{"s":"DIMM3","k":175,"v":27},{"s":"DIMM3","k":176.2,"v":29},{"s":"DIMM3","k":177.5,"v":28},{"s":"DIMM3","k":178.5,"v":27.5},{"s":"DIMM3","k":180,"v":26.5},{"s":"DIMM3","k":180.7,"v":26.2},{"s":"DIMM3","k":182,"v":27},{"s":"DIMM3","k":183,"v":27.5},{"s":"DIMM3","k":185,"v":28},{"s":"DIMM3","k":186,"v":27},{"s":"DIMM3","k":187,"v":26},{"s":"DIMM3","k":188.5,"v":27},{"s":"DIMM3","k":189.5,"v":27.2},{"s":"DIMM3","k":190.5,"v":26},{"s":"DIMM3","k":191.7,"v":25.3},{"s":"DIMM3","k":193,"v":26.5},{"s":"DIMM3","k":194,"v":27.6},{"s":"DIMM3","k":195.5,"v":26.5},{"s":"DIMM3","k":197,"v":26.5},{"s":"DIMM3","k":198.3,"v":27.2},{"s":"DIMM3","k":199.5,"v":25},{"s":"DIMM3","k":200.5,"v":23.4},{"s":"DIMM3","k":202,"v":31},{"s":"DIMM3","k":203,"v":34},{"s":"DIMM3","k":203.8,"v":37.4},{"s":"DIMM3","k":204.8,"v":41},{"s":"DIMM3","k":205.6,"v":43},{"s":"DIMM3","k":207,"v":41.2},{"s":"DIMM3","k":208.2,"v":36.5},{"s":"DIMM3","k":209,"v":33},{"s":"DIMM3","k":210,"v":30},{"s":"DIMM3","k":211.4,"v":23.4},{"s":"DIMM3","k":212.5,"v":23},{"s":"DIMM3","k":213.7,"v":23.9},{"s":"DIMM3","k":215,"v":27},{"s":"DIMM3","k":215.9,"v":30},{"s":"DIMM3","k":217,"v":32},{"s":"DIMM3","k":218,"v":33.2},{"s":"DIMM3","k":219,"v":32.5},{"s":"DIMM3","k":220.3,"v":31.8},{"s":"DIMM3","k":221.5,"v":30.5},{"s":"DIMM3","k":222.5,"v":29},{"s":"DIMM3","k":223.6,"v":27.5},{"s":"DIMM3","k":224.7,"v":26.2},{"s":"DIMM3","k":226,"v":28.5},{"s":"DIMM3","k":227,"v":30},{"s":"DIMM3","k":228,"v":32.8},{"s":"DIMM3","k":229,"v":31.5},{"s":"DIMM3","k":230.2,"v":30.5},{"s":"DIMM3","k":231.3,"v":31.5},{"s":"DIMM3","k":232.4,"v":32.8},{"s":"DIMM3","k":233.5,"v":30},{"s":"DIMM3","k":234.6,"v":31},{"s":"DIMM3","k":236,"v":31.5},{"s":"DIMM3","k":237,"v":30.8},{"s":"DIMM3","k":238,"v":31.4},{"s":"DIMM3","k":239,"v":33},{"s":"DIMM3","k":240.2,"v":34.6},{"s":"DIMM3","k":241.3,"v":33.5},{"s":"DIMM3","k":242.3,"v":33.2},{"s":"DIMM3","k":243.4,"v":36.5},{"s":"DIMM3","k":244.5,"v":36.5},{"s":"DIMM3","k":245.6,"v":33.2},{"s":"DIMM3","k":246.7,"v":32.5},{"s":"DIMM3","k":247.8,"v":32.8},{"s":"DIMM3","k":248.9,"v":30.9},{"s":"DIMM3","k":250,"v":30},{"s":"DIMM3","k":251.1,"v":29},{"s":"DIMM3","k":252.2,"v":27.2},{"s":"DIMM3","k":253.3,"v":30.9},{"s":"DIMM3","k":254.4,"v":40.2},{"s":"DIMM3","k":255.5,"v":45.8},{"s":"DIMM3","k":256.3,"v":50},{"s":"DIMM3","k":257,"v":52.4},{"s":"DIMM3","k":258.2,"v":47.7},{"s":"DIMM3","k":258.8,"v":39.3},{"s":"DIMM3","k":259.9,"v":32.8},{"s":"DIMM3","k":261,"v":30.5},{"s":"DIMM3","k":262,"v":31},{"s":"DIMM3","k":263.2,"v":30.9},{"s":"DIMM3","k":264.3,"v":34},{"s":"DIMM3","k":265.4,"v":37.4},{"s":"DIMM3","k":266.5,"v":39.5},{"s":"DIMM3","k":267.6,"v":41.2},{"s":"DIMM3","k":268.7,"v":40.5},{"s":"DIMM3","k":269.8,"v":40.2},{"s":"DIMM3","k":271,"v":39},{"s":"DIMM3","k":272,"v":38.4},{"s":"DIMM3","k":273,"v":39},{"s":"DIMM3","k":274.2,"v":40.2},{"s":"DIMM3","k":275.3,"v":38},{"s":"DIMM3","k":276.4,"v":35.5},{"s":"DIMM3","k":277.5,"v":38},{"s":"DIMM3","k":278.6,"v":40.2},{"s":"DIMM3","k":279.7,"v":41.5},{"s":"DIMM3","k":280.8,"v":43},{"s":"DIMM3","k":282,"v":44.5},{"s":"DIMM3","k":283,"v":45.8},{"s":"DIMM3","k":284.1,"v":44.5},{"s":"DIMM3","k":285.2,"v":43},{"s":"DIMM3","k":286.3,"v":40.2},{"s":"DIMM3","k":287.4,"v":41.5},{"s":"DIMM3","k":288.5,"v":43},{"s":"DIMM3","k":289.6,"v":44},{"s":"DIMM3","k":290.7,"v":44.9},{"s":"DIMM3","k":291.8,"v":45.3},{"s":"DIMM3","k":292.9,"v":45.8},{"s":"DIMM3","k":294,"v":48},{"s":"DIMM3","k":295,"v":50.5},{"s":"DIMM3","k":296.2,"v":50},{"s":"DIMM3","k":296.7,"v":49.6},{"s":"DIMM3","k":297.5,"v":46},{"s":"DIMM3","k":298.5,"v":43},{"s":"DIMM3","k":299.3,"v":43},{"s":"DIMM3","k":300,"v":44}
]},
"mark":{"type":"line","clip":true,"strokeWidth":1.1},
"encoding":{
"x":{"field":"k","type":"quantitative","scale":{"domain":[0,300],"nice":false},
"axis":{"values":[0,50,100,150,200,250,300],"grid":false,"tickSize":-5,"labelPadding":10,"labelFont":"DejaVu Serif","labelFontSize":15.5,"labelColor":"black","domainColor":"black","tickColor":"black","labelFlush":false,
"title":"时间 k","titleFont":"DejaVu Serif, Noto Sans CJK SC","titleFontSize":18,"titleFontWeight":"normal","titleColor":"black","titleX":227,"titleY":41,"titleBaseline":"middle"}},
"y":{"field":"v","type":"quantitative","scale":{"domain":[0,100],"nice":false},
"axis":{"values":[0,10,20,30,40,50,60,70,80,90,100],"grid":false,"tickSize":-5,"labelPadding":12,"labelFont":"DejaVu Serif","labelFontSize":15.5,"labelColor":"black","domainColor":"black","tickColor":"black","labelFlush":false,
"title":"平均位置估计误差 /m","titleFont":"DejaVu Serif, Noto Sans CJK SC","titleFontSize":20,"titleFontWeight":"normal","titleColor":"black","titleX":-47,"titleY":182,"titleAngle":270,"titleAlign":"center","titleBaseline":"middle"}},
"color":{"field":"s","type":"nominal","sort":null,
"scale":{"domain":["DIMM1","DIMM2","DIMM3","DEMA-LMS"],"range":["#ff0000","#000000","#1a44ff","#1c9a00"]},
"legend":{"orient":"none","legendX":48,"legendY":5,"title":null,"strokeColor":"black","fillColor":"white","padding":6,"symbolOffset":9,"symbolType":"stroke","symbolSize":1936,"symbolStrokeWidth":1.3,"labelFont":"DejaVu Serif","labelFontSize":18.5,"labelColor":"black","labelOffset":11,"clipHeight":19,"rowPadding":2.5,"cornerRadius":0}},
"strokeDash":{"field":"s","type":"nominal","sort":null,
"scale":{"domain":["DIMM1","DIMM2","DIMM3","DEMA-LMS"],"range":[[1,0],[4,2],[6,2,1.5,2],[1,0]]},
"legend":{"orient":"none","legendX":48,"legendY":5,"title":null,"strokeColor":"black","fillColor":"white","padding":6,"symbolOffset":9,"symbolType":"stroke","symbolSize":1936,"symbolStrokeWidth":1.3,"labelFont":"DejaVu Serif","labelFontSize":18.5,"labelColor":"black","labelOffset":11,"clipHeight":19,"rowPadding":2.5,"cornerRadius":0}}
}
}
